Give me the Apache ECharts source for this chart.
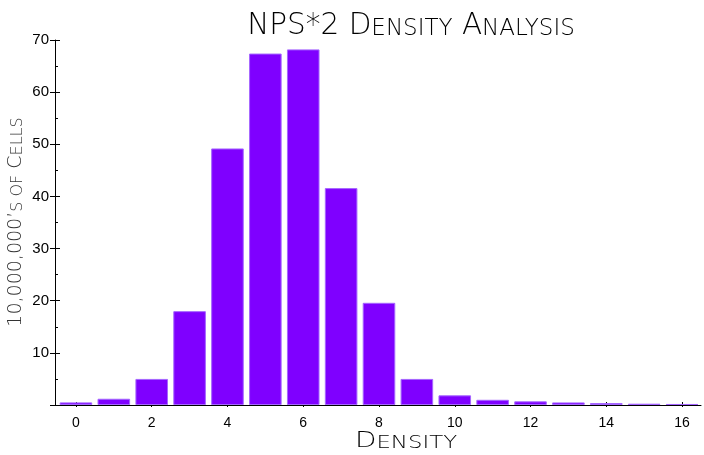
<!DOCTYPE html>
<html>
<head>
<meta charset="utf-8">
<script src="https://cdn.jsdelivr.net/npm/echarts@6/dist/echarts.min.js"></script>
<style>html,body{margin:0;padding:0;background:#fff}#c{width:704px;height:455px}</style>
</head>
<body>
<div id="c"></div>
<script>
var categories = ['0','1','2','3','4','5','6','7','8','9','10','11','12','13','14','15','16'];
var cellCounts = [0.5, 1.2, 5.0, 18.0, 49.2, 67.4, 68.2, 41.6, 19.6, 5.0, 1.85, 1.0, 0.7, 0.5, 0.37, 0.25, 0.2];
var yTicks = [0, 10, 20, 30, 40, 50, 60, 70];

var chart = echarts.init(document.getElementById('c'), null, {renderer: 'canvas'});
var thin = '"DejaVu Sans", sans-serif';
var lab = '"Liberation Sans", Arial, sans-serif';
var baseX = {
  type: 'category', data: categories, position: 'bottom',
  boundaryGap: true
};
var baseY = {
  type: 'value', min: yTicks[0], max: yTicks[yTicks.length-1], interval: 10,
  position: 'left', offset: 2, splitLine: {show: false}
};
function smallCaps(big, small, color) {
  return {
    fontFamily: thin, fontWeight: 200, fontSize: big, fill: color,
    rich: {s: {fontFamily: thin, fontWeight: 200, fontSize: small, fill: color, verticalAlign: 'bottom'},
           b: {fontFamily: thin, fontWeight: 200, fontSize: big, fill: color, verticalAlign: 'bottom'}}
  };
}
chart.setOption({
  animation: false,
  backgroundColor: '#fff',
  graphic: [{
    type: 'text', x: 411, y: 26, silent: true,
    style: Object.assign(smallCaps(29.5, 23, '#000'), {
      text: '{b|NPS*2 D}{s|ENSITY}{b| A}{s|NALYSIS}', align: 'center', verticalAlign: 'middle'})
  }, {
    type: 'text', x: 406, y: 441, scaleX: 1.27, silent: true,
    style: Object.assign(smallCaps(22, 18, '#000'), {
      text: '{b|D}{s|ENSITY}', align: 'center', verticalAlign: 'middle'})
  }, {
    type: 'text', x: 16, y: 222, rotation: Math.PI / 2, silent: true,
    style: Object.assign(smallCaps(19, 16, '#333'), {
      text: '{b|10,000,000\u2019}{s|S OF}{b| C}{s|ELLS}', align: 'center', verticalAlign: 'middle'})
  }],
  grid: {left: 57, top: 40, width: 644, bottom: 50, containLabel: false, outerBoundsMode: 'none'},
  xAxis: [
    Object.assign({}, baseX, {
      axisLine: {show: true, lineStyle: {color: '#000', width: 1}},
      axisTick: {show: true, interval: 1, alignWithLabel: true, length: 2, lineStyle: {color: '#000'}},
      axisLabel: {interval: 1, margin: 11, fontSize: 14, color: '#000', fontFamily: lab}
    }),
    Object.assign({}, baseX, {
      axisLine: {show: false},
      axisTick: {show: true, inside: true, interval: 1, alignWithLabel: true, length: 3, lineStyle: {color: '#000'}},
      axisLabel: {show: false}
    })
  ],
  yAxis: [
    Object.assign({}, baseY, {
      axisLine: {show: true, lineStyle: {color: '#000', width: 1}},
      axisTick: {show: true, length: 5, lineStyle: {color: '#000'}},
      axisLabel: {margin: 6, fontSize: 15, color: '#000', fontFamily: lab,
        formatter: function (v) { return v === 0 ? '' : String(v); }}
    }),
    Object.assign({}, baseY, {
      axisLine: {show: false},
      axisTick: {show: true, inside: true, length: 5, lineStyle: {color: '#000'}},
      minorTick: {show: true, splitNumber: 2, length: 3, lineStyle: {color: '#000'}},
      axisLabel: {show: false}
    })
  ],
  series: [{
    type: 'bar', xAxisIndex: 0, yAxisIndex: 0,
    data: cellCounts,
    barCategoryGap: '14%',
    itemStyle: {color: '#7f00ff', borderColor: '#a566ff', borderWidth: 1}
  }]
});
</script>
</body>
</html>
